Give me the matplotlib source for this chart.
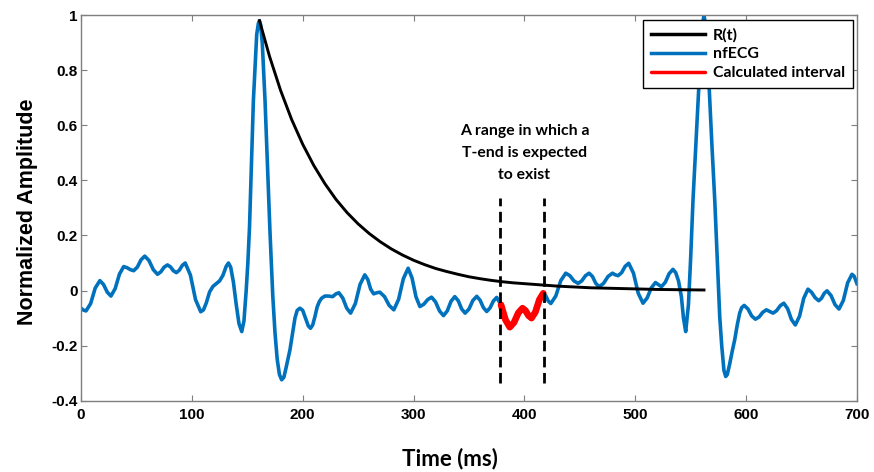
import matplotlib
matplotlib.use("Agg")
import matplotlib.pyplot as plt
import numpy as np

# ---------------------------------------------------------------------------
# Data
# ---------------------------------------------------------------------------

# nfECG: time (ms)
ecg_t = [
    0, 2.2, 4.5, 8.7, 12.8, 17, 20.3, 23.7, 27, 30.8, 34.7, 38.5, 41.5, 44.5,
    47.5, 50.8, 54.2, 57.5, 61.3, 65.2, 69, 72, 75, 78, 80.7, 83.3, 86, 88.7,
    91.3, 94, 98.7, 103.3, 108,
    110.5, 113, 116, 119, 122, 125, 128, 131, 133, 135, 137.5, 140, 142.5, 145,
    147, 149, 150.5, 152, 155.5, 158.5, 160, 161, 162, 163.5, 166, 170.5, 173,
    175, 177, 179, 181, 183, 185, 188.5, 191, 193, 195, 197.5, 200, 202.5, 205,
    207, 209, 211, 213, 215, 217, 220, 223, 227, 230, 232.6,
    236.1, 239.7, 243.2, 247.5, 251.7, 256, 258.7, 261.3, 264, 266.8, 269.6,
    273.8, 278, 282.2, 286.5, 290.8, 295.1, 298.6, 302.2, 305.7, 309.2, 312.7,
    316.2, 319.8, 323.4, 327, 330.4, 333.8, 337.2, 340.3, 343.4, 346.5, 350,
    353.5, 357, 360, 363, 366, 369, 372, 375, 378.9, 382.9, 386.8, 390.6,
    394.5, 398.3, 401, 403.7, 406.4, 409.9, 413.5, 417, 419.3, 421.5, 423.8,
    428.3, 432.8, 437.3, 441, 444.7, 448.4, 451.7, 455.1, 458.4, 461.4, 464.4,
    467.4, 471.4, 475.4, 479.4, 482, 484.5, 487.7, 490.9, 494.1, 498.4, 502.7,
    507, 510.7, 514.5, 518.2, 521, 523.6, 527.1, 530.5, 534, 536.5, 539, 541.6,
    543.5, 545.5,
    548, 550, 552.1, 555, 557.5, 560, 561, 562, 563, 564, 566.5, 569, 571.7,
    574, 576.2, 578, 580, 581.6, 583, 585, 587.5, 589.7, 592, 594.2, 596,
    598.3, 601.7, 605, 608.4, 611.7, 615, 618.3, 621.3, 624.3, 627.5, 630.8,
    634, 637.5, 640.9, 644.4, 648.2, 652, 655.8, 659, 662.3, 665.5, 668, 670.5,
    673, 676.6, 680.2, 683.8, 687.7, 691.6, 695.5, 697.5, 700,
]

# nfECG: normalized amplitude
ecg_v = [
    -0.064, -0.071, -0.074, -0.047, 0.009, 0.036, 0.022, -0.006, -0.02, 0.007,
    0.060, 0.087, 0.083, 0.076, 0.072, 0.085, 0.112, 0.125, 0.109, 0.076, 0.059,
    0.068, 0.085, 0.093, 0.086, 0.072, 0.065, 0.074, 0.091, 0.100, 0.056,
    -0.033, -0.077,
    -0.07, -0.045, -0.005, 0.015, 0.025, 0.035, 0.055, 0.088, 0.100, 0.085,
    0.03, -0.05, -0.12, -0.149, -0.11, 0.0, 0.1, 0.23, 0.69, 0.93, 0.97, 0.979,
    0.965, 0.90, 0.69, 0.21, -0.02, -0.154, -0.25, -0.305, -0.324, -0.315,
    -0.28, -0.215, -0.15, -0.1, -0.072, -0.064, -0.072, -0.1, -0.128, -0.137,
    -0.125, -0.095, -0.06, -0.04, -0.028, -0.02, -0.02, -0.022, -0.012, -0.008,
    -0.027, -0.064, -0.082, -0.047, 0.022, 0.057, 0.040, 0.005, -0.012, -0.008,
    -0.006, -0.022, -0.054, -0.07, -0.032, 0.043, 0.081, 0.046, -0.023, -0.058,
    -0.050, -0.033, -0.024, -0.041, -0.074, -0.091, -0.074, -0.039, -0.022,
    -0.037, -0.067, -0.082, -0.067, -0.036, -0.021, -0.035, -0.062, -0.076,
    -0.063, -0.038, -0.025, -0.052, -0.106, -0.133, -0.116, -0.081, -0.064,
    -0.073, -0.091, -0.100, -0.078, -0.033, -0.01, -0.019, -0.038, -0.047,
    -0.020, 0.036, 0.063, 0.054, 0.035, 0.026, 0.035, 0.054, 0.063, 0.051,
    0.026, 0.014, 0.026, 0.051, 0.063, 0.057, 0.054, 0.065, 0.088, 0.099, 0.063,
    -0.010, -0.046, -0.027, 0.010, 0.029, 0.021, 0.014, 0.030, 0.061, 0.077,
    0.065, 0.035, -0.022, -0.1, -0.149,
    -0.05, 0.12, 0.329, 0.56, 0.752, 0.93, 0.975, 1.0, 0.975, 0.93, 0.752, 0.54,
    0.329, 0.11, -0.095, -0.2, -0.29, -0.312, -0.305, -0.27, -0.22, -0.179,
    -0.125, -0.082, -0.062, -0.054, -0.067, -0.092, -0.104, -0.096, -0.079,
    -0.070, -0.076, -0.082, -0.073, -0.055, -0.046, -0.066, -0.105, -0.125,
    -0.093, -0.028, 0.005, -0.006, -0.026, -0.037, -0.028, -0.010, -0.001,
    -0.018, -0.051, -0.067, -0.036, 0.028, 0.059, 0.052, 0.025,
]

# R(t) decay curve
r_t = [161, 170, 180, 190, 200, 210, 220, 230, 240, 250, 260, 270, 280, 290,
       300, 310, 320, 330, 340, 350, 360, 370, 380, 390, 400, 410, 420, 430,
       440, 450, 460, 470, 480, 490, 500, 520, 540, 562]
r_v = [0.980, 0.851, 0.727, 0.621, 0.531, 0.454, 0.388, 0.331, 0.283, 0.242,
       0.207, 0.177, 0.151, 0.129, 0.110, 0.094, 0.080, 0.069, 0.059, 0.050,
       0.043, 0.037, 0.032, 0.028, 0.025, 0.022, 0.019, 0.016, 0.014, 0.012,
       0.010, 0.009, 0.008, 0.007, 0.006, 0.004, 0.003, 0.002]

# calculated interval on the ECG and the expected T-end range
calc_range = [378, 417]
tend_range = [378, 418]
tend_ylim = [-0.335, 0.336]

x_ticks = [0, 100, 200, 300, 400, 500, 600, 700]
y_ticks = [-0.4, -0.2, 0, 0.2, 0.4, 0.6, 0.8, 1]
y_tick_labels = ["-0.4", "-0.2", "0", "0.2", "0.4", "0.6", "0.8", "1"]

BLUE = "#0072bd"
RED = "#ff0000"
SPINE = "#7f7f7f"

fig = plt.figure(figsize=(8.74, 4.72), dpi=100)
ax = fig.add_axes([0.0927, 0.151, 0.8878, 0.817])

ecg_t = np.array(ecg_t)
ecg_v = np.array(ecg_v)
mask = (ecg_t >= calc_range[0]) & (ecg_t <= calc_range[1])

ax.plot(r_t, r_v, color="black", lw=2.1, label="R(t)", zorder=3)
ax.plot(ecg_t, ecg_v, color=BLUE, lw=2.6, label="nfECG", zorder=2,
        solid_joinstyle="round")
ax.plot(ecg_t[mask], ecg_v[mask], color=RED, lw=4.8, label="Calculated interval",
        zorder=4, solid_capstyle="round", solid_joinstyle="round")

for xv in tend_range:
    ax.plot([xv, xv], tend_ylim, color="black", lw=2.0,
            linestyle=(0, (3.8, 2.0)), zorder=5)

ax.text(400, 0.50, "A range in which a\nT-end is expected\nto exist",
        ha="center", va="center", fontsize=11.3, fontweight="bold",
        family="Lato", linespacing=1.72)

ax.set_xlim(0, 700)
ax.set_ylim(-0.4, 1)
ax.set_xticks(x_ticks)
ax.set_yticks(y_ticks)
ax.set_yticklabels(y_tick_labels)
for lab in ax.get_xticklabels() + ax.get_yticklabels():
    lab.set_fontweight("bold")
    lab.set_family("Liberation Sans")
    lab.set_fontsize(11)

ax.tick_params(direction="in", length=4, width=0.8, color=SPINE,
               top=True, right=True)
ax.tick_params(axis="x", pad=5)
ax.tick_params(axis="y", pad=2.5)
for spine in ax.spines.values():
    spine.set_color(SPINE)
    spine.set_linewidth(1.0)

ax.set_xlabel("Time (ms)", fontsize=16, fontweight="bold", family="Lato")
ax.xaxis.set_label_coords(0.476, -0.122)
ax.set_ylabel("Normalized Amplitude", fontsize=15.5, fontweight="bold",
              family="Liberation Sans")
ax.yaxis.set_label_coords(-0.055, 0.49)

leg = ax.legend(loc="upper right", bbox_to_anchor=(0.9985, 0.995),
                prop={"family": "Lato", "weight": "bold", "size": 11.4},
                frameon=True, fancybox=False, framealpha=1, edgecolor="black",
                handlelength=3.4, handletextpad=0.5, labelspacing=0.3,
                borderpad=0.5, borderaxespad=0.2)
leg.get_frame().set_linewidth(1.0)
for h in leg.get_lines():
    h.set_linewidth(2.5)

fig.savefig("out.png", dpi=100)
